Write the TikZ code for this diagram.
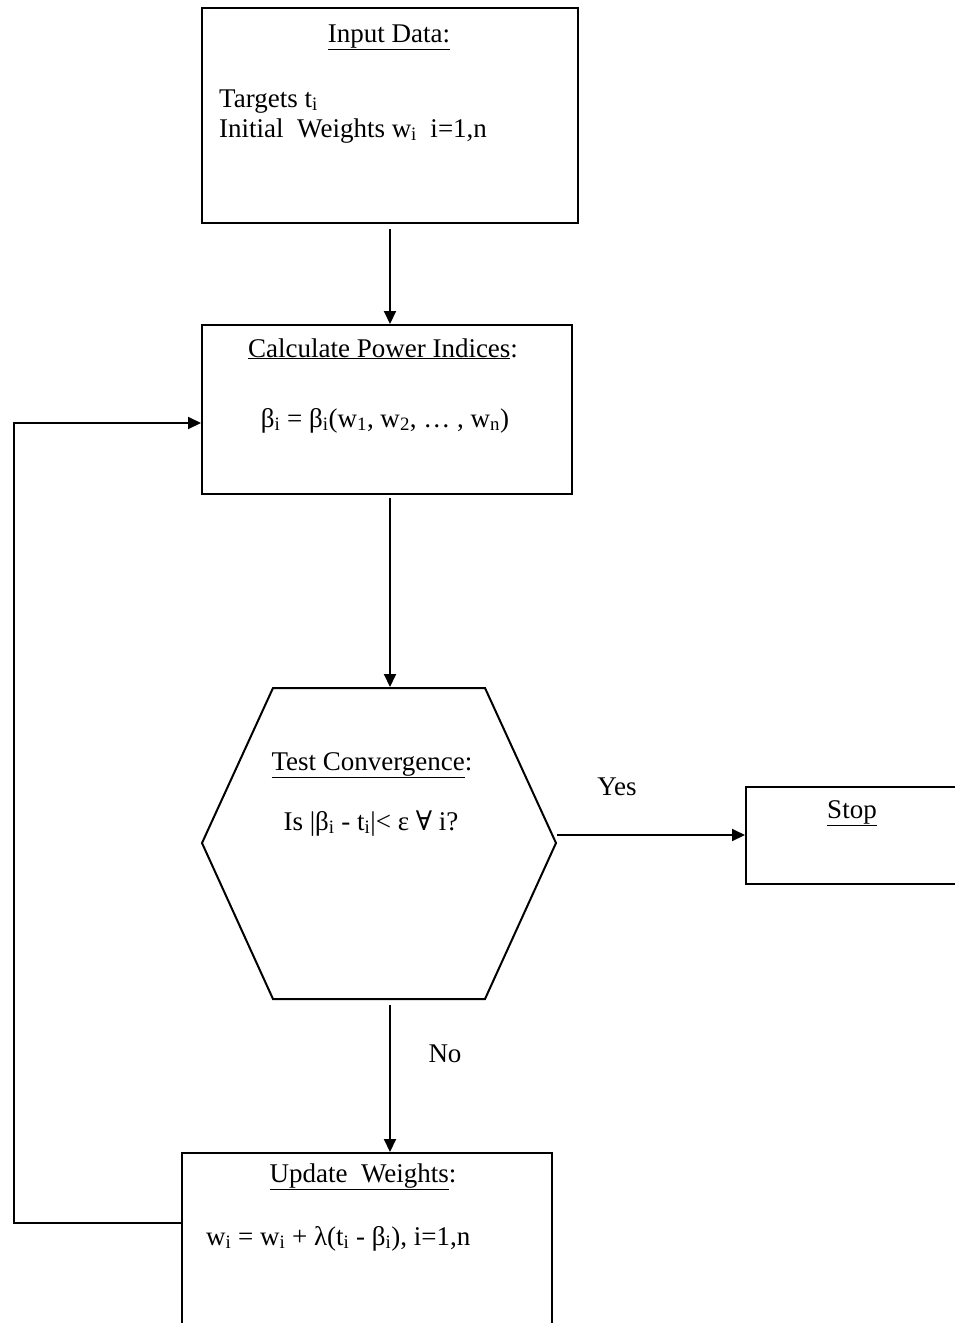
\documentclass[tikz,border=0pt]{standalone}
\usepackage{fontspec}
\setmainfont{Liberation Serif}
\newfontfamily\dvs{DejaVu Serif}
\usetikzlibrary{arrows.meta,calc}
\begin{document}
\begin{tikzpicture}[x=1pt,y=-1pt,
  box/.style={draw,line width=2pt,minimum width=#1,inner sep=0pt},
  line/.style={line width=2pt},
  arr/.style={line width=2pt,-{Triangle[length=13pt,width=12pt]}},
  txt/.style={font=\fontsize{27}{31}\selectfont,inner sep=0pt}]
\useasboundingbox (0,0) rectangle (955,1323);
\fill[white] (0,0) rectangle (955,1323);
\clip (0,0) rectangle (955,1323);

% boxes
\node[box=376pt,minimum height=215pt] (input) at (390,115.5) {};
\node[box=370pt,minimum height=169pt] (calc) at (387,409.5) {};
\node[box=230pt,minimum height=97pt,anchor=north west] (stop) at (745,786) {};
\node[box=370pt,minimum height=200pt,anchor=north west] (update) at (181,1152) {};

% hexagon
\coordinate (hexT) at (390,688);
\coordinate (hexB) at (390,999);
\coordinate (hexL) at (202,843);
\coordinate (hexR) at (556,843);
\draw[line,line join=miter] (hexL) -- (273,688) -- (485,688) -- (hexR) -- (485,999) -- (273,999) -- cycle;

% texts
\node[txt,anchor=base] (t1) at (389,42) {\underline{Input Data:}};
\node[txt,anchor=base west] (t2) at (219,107) {Targets t\textsubscript{i}};
\node[txt,anchor=base west] (t3) at (219,137) {Initial\ \ Weights w\textsubscript{i}\ \ i=1,n};
\node[txt,anchor=base] (t4) at (383,357) {\underline{Calculate Power Indices}:};
\node[txt,anchor=base] (t5) at (385,427) {β\textsubscript{i} = β\textsubscript{i}(w\textsubscript{1}, w\textsubscript{2}, … , w\textsubscript{n})};
\node[txt,anchor=base] (t6) at (372,770) {\underline{Test Convergence}:};
\node[txt,anchor=base] (t7) at (371,830) {Is |β\textsubscript{i} - t\textsubscript{i}|< ε {\dvs ∀} i?};
\node[txt,anchor=base] (yes) at (617,795) {Yes};
\node[txt,anchor=base] (stoptxt) at (852,818) {\underline{Stop}};
\node[txt,anchor=base] (no) at (445,1062) {No};
\node[txt,anchor=base] (t8) at (363,1182) {\underline{Update\ \ Weights}:};
\node[txt,anchor=base west] (t9) at (206,1245) {w\textsubscript{i} = w\textsubscript{i} + λ(t\textsubscript{i} - β\textsubscript{i}), i=1,n};

% connectors
\draw[arr] ($(input.south)+(0,5)$) -- (calc.north -| input.south);
\draw[arr] ($(calc.south -| hexT)+(0,3)$) -- ($(hexT)+(0,-1)$);
\draw[arr] (hexR) ++(1,-8) coordinate (yesStart) -- (stop.west |- yesStart);
\draw[arr] ($(hexB)+(0,6)$) -- (update.north -| hexB);
\draw[arr] (update.west |- 0,1223) coordinate (loopStart) -- (14,1223) -- (14,423) -- (calc.west |- 0,423);
\end{tikzpicture}
\end{document}
